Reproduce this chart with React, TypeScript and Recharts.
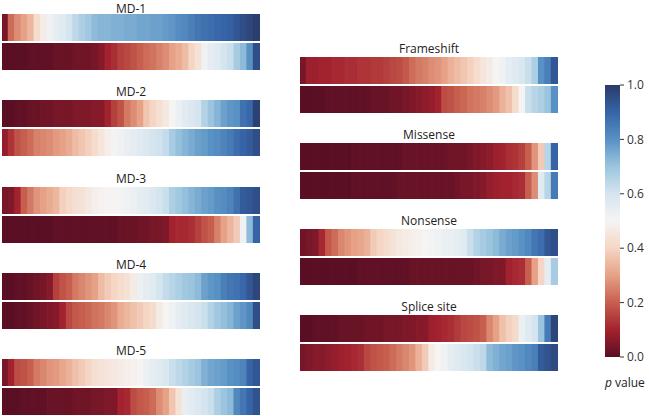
import { Bar, BarChart, Cell, XAxis, YAxis } from "recharts"

// sorted p values per strip (top row, bottom row)
const md1Top = [0.04, 0.22, 0.27, 0.3, 0.34, 0.42, 0.47, 0.52, 0.55, 0.57, 0.6, 0.64, 0.67, 0.69, 0.72, 0.73, 0.73, 0.74, 0.74, 0.75, 0.75, 0.76, 0.76, 0.77, 0.77, 0.78, 0.79, 0.81, 0.82, 0.84, 0.86, 0.87, 0.88, 0.89, 0.9, 0.91, 0.93, 0.95, 0.97, 0.99]
const md1Bottom = [0.0, 0.0, 0.0, 0.0, 0.01, 0.01, 0.01, 0.01, 0.02, 0.02, 0.02, 0.03, 0.03, 0.03, 0.04, 0.06, 0.1, 0.12, 0.15, 0.16, 0.18, 0.2, 0.22, 0.23, 0.25, 0.27, 0.3, 0.32, 0.35, 0.4, 0.44, 0.52, 0.55, 0.57, 0.6, 0.62, 0.68, 0.72, 0.8, 0.95]
const md2Top = [0.0, 0.0, 0.01, 0.01, 0.02, 0.02, 0.03, 0.03, 0.04, 0.04, 0.04, 0.05, 0.05, 0.05, 0.06, 0.06, 0.1, 0.15, 0.18, 0.24, 0.27, 0.3, 0.37, 0.4, 0.43, 0.46, 0.5, 0.53, 0.56, 0.58, 0.6, 0.66, 0.7, 0.73, 0.77, 0.79, 0.8, 0.87, 0.89, 0.98]
const md2Bottom = [0.08, 0.13, 0.18, 0.2, 0.22, 0.25, 0.26, 0.27, 0.29, 0.3, 0.32, 0.35, 0.37, 0.39, 0.42, 0.45, 0.48, 0.51, 0.52, 0.54, 0.55, 0.57, 0.58, 0.6, 0.61, 0.63, 0.68, 0.71, 0.73, 0.75, 0.77, 0.78, 0.8, 0.81, 0.83, 0.85, 0.88, 0.9, 0.92, 0.95]
const md3Top = [0.04, 0.05, 0.1, 0.2, 0.24, 0.28, 0.3, 0.32, 0.34, 0.39, 0.41, 0.43, 0.44, 0.46, 0.48, 0.49, 0.5, 0.5, 0.51, 0.52, 0.53, 0.55, 0.56, 0.58, 0.6, 0.62, 0.67, 0.69, 0.71, 0.73, 0.75, 0.77, 0.78, 0.8, 0.81, 0.83, 0.87, 0.92, 0.93, 0.95]
const md3Bottom = [0.0, 0.0, 0.0, 0.0, 0.0, 0.0, 0.0, 0.0, 0.01, 0.01, 0.01, 0.01, 0.01, 0.01, 0.01, 0.01, 0.01, 0.01, 0.02, 0.02, 0.02, 0.03, 0.03, 0.04, 0.04, 0.05, 0.1, 0.11, 0.11, 0.12, 0.15, 0.18, 0.2, 0.25, 0.3, 0.34, 0.38, 0.52, 0.72, 0.9]
const md4Top = [0.0, 0.0, 0.01, 0.01, 0.02, 0.03, 0.04, 0.06, 0.15, 0.18, 0.2, 0.24, 0.26, 0.28, 0.3, 0.35, 0.38, 0.4, 0.42, 0.44, 0.47, 0.53, 0.55, 0.57, 0.6, 0.63, 0.65, 0.67, 0.69, 0.7, 0.72, 0.77, 0.79, 0.8, 0.84, 0.86, 0.87, 0.89, 0.93, 0.97]
const md4Bottom = [0.0, 0.0, 0.01, 0.01, 0.02, 0.03, 0.04, 0.05, 0.06, 0.1, 0.16, 0.19, 0.2, 0.21, 0.23, 0.24, 0.26, 0.28, 0.32, 0.34, 0.36, 0.38, 0.4, 0.42, 0.47, 0.5, 0.52, 0.55, 0.57, 0.59, 0.6, 0.62, 0.66, 0.69, 0.71, 0.73, 0.77, 0.79, 0.82, 0.95]
const md5Top = [0.04, 0.1, 0.17, 0.18, 0.2, 0.24, 0.26, 0.28, 0.29, 0.31, 0.33, 0.36, 0.38, 0.4, 0.43, 0.44, 0.45, 0.46, 0.47, 0.48, 0.49, 0.5, 0.53, 0.55, 0.57, 0.59, 0.62, 0.64, 0.66, 0.68, 0.7, 0.74, 0.76, 0.77, 0.78, 0.8, 0.81, 0.83, 0.9, 0.93]
const md5Bottom = [0.0, 0.0, 0.0, 0.01, 0.01, 0.01, 0.01, 0.02, 0.02, 0.02, 0.02, 0.03, 0.03, 0.03, 0.04, 0.04, 0.05, 0.05, 0.1, 0.11, 0.17, 0.19, 0.2, 0.22, 0.27, 0.3, 0.37, 0.44, 0.54, 0.56, 0.58, 0.6, 0.62, 0.67, 0.7, 0.72, 0.82, 0.86, 0.9, 0.94]
const frameshiftTop = [0.04, 0.09, 0.09, 0.1, 0.1, 0.11, 0.11, 0.12, 0.12, 0.13, 0.13, 0.14, 0.14, 0.15, 0.16, 0.17, 0.19, 0.22, 0.24, 0.25, 0.27, 0.28, 0.3, 0.33, 0.35, 0.37, 0.39, 0.42, 0.45, 0.47, 0.5, 0.52, 0.55, 0.57, 0.59, 0.62, 0.67, 0.8, 0.84, 0.93]
const frameshiftBottom = [0.0, 0.0, 0.0, 0.0, 0.01, 0.01, 0.01, 0.01, 0.01, 0.01, 0.01, 0.02, 0.02, 0.02, 0.03, 0.03, 0.04, 0.05, 0.06, 0.07, 0.08, 0.1, 0.17, 0.18, 0.2, 0.21, 0.23, 0.24, 0.25, 0.27, 0.29, 0.33, 0.36, 0.42, 0.5, 0.62, 0.65, 0.67, 0.7, 0.8]
const missenseTop = [0.0, 0.0, 0.0, 0.0, 0.0, 0.0, 0.0, 0.0, 0.01, 0.01, 0.01, 0.01, 0.01, 0.01, 0.01, 0.01, 0.02, 0.02, 0.02, 0.02, 0.02, 0.02, 0.02, 0.03, 0.03, 0.03, 0.04, 0.05, 0.06, 0.07, 0.09, 0.1, 0.12, 0.13, 0.15, 0.2, 0.28, 0.38, 0.65, 0.9]
const missenseBottom = [0.0, 0.0, 0.0, 0.0, 0.0, 0.0, 0.0, 0.0, 0.01, 0.01, 0.01, 0.01, 0.01, 0.01, 0.01, 0.02, 0.02, 0.02, 0.02, 0.02, 0.02, 0.02, 0.02, 0.02, 0.03, 0.04, 0.04, 0.05, 0.06, 0.08, 0.09, 0.1, 0.1, 0.11, 0.12, 0.2, 0.27, 0.57, 0.65, 0.85]
const nonsenseTop = [0.03, 0.04, 0.05, 0.11, 0.19, 0.22, 0.26, 0.28, 0.3, 0.31, 0.33, 0.38, 0.4, 0.42, 0.44, 0.46, 0.47, 0.48, 0.49, 0.5, 0.51, 0.52, 0.53, 0.54, 0.55, 0.57, 0.62, 0.66, 0.68, 0.7, 0.72, 0.75, 0.77, 0.78, 0.8, 0.82, 0.86, 0.88, 0.93, 0.95]
const nonsenseBottom = [0.0, 0.0, 0.0, 0.0, 0.0, 0.0, 0.0, 0.0, 0.0, 0.01, 0.01, 0.01, 0.01, 0.01, 0.01, 0.01, 0.01, 0.02, 0.02, 0.02, 0.02, 0.02, 0.02, 0.02, 0.02, 0.02, 0.02, 0.03, 0.04, 0.04, 0.05, 0.05, 0.1, 0.11, 0.12, 0.2, 0.3, 0.4, 0.55, 0.68]
const spliceTop = [0.0, 0.0, 0.01, 0.01, 0.01, 0.01, 0.02, 0.02, 0.02, 0.02, 0.03, 0.03, 0.03, 0.04, 0.04, 0.04, 0.05, 0.05, 0.06, 0.06, 0.09, 0.1, 0.11, 0.12, 0.14, 0.16, 0.17, 0.18, 0.2, 0.26, 0.3, 0.36, 0.39, 0.41, 0.53, 0.57, 0.6, 0.7, 0.85, 0.97]
const spliceBottom = [0.04, 0.05, 0.06, 0.06, 0.07, 0.08, 0.09, 0.1, 0.11, 0.12, 0.16, 0.18, 0.19, 0.2, 0.22, 0.24, 0.26, 0.28, 0.33, 0.38, 0.47, 0.5, 0.52, 0.55, 0.57, 0.59, 0.6, 0.62, 0.64, 0.72, 0.74, 0.76, 0.77, 0.79, 0.8, 0.82, 0.84, 0.92, 0.94, 0.96]

const leftTitles = ["MD-1", "MD-2", "MD-3", "MD-4", "MD-5"]
const rightTitles = ["Frameshift", "Missense", "Nonsense", "Splice site"]
const leftRows = [
  [md1Top, md1Bottom],
  [md2Top, md2Bottom],
  [md3Top, md3Bottom],
  [md4Top, md4Bottom],
  [md5Top, md5Bottom],
]
const rightRows = [
  [frameshiftTop, frameshiftBottom],
  [missenseTop, missenseBottom],
  [nonsenseTop, nonsenseBottom],
  [spliceTop, spliceBottom],
]
const colorbarTicks = [0, 0.2, 0.4, 0.6, 0.8, 1]

// RdBu-like stops at 0, 0.1, ... 1
const colorStops = ["#5a0f24", "#a3222f", "#c75f4e", "#e6a186", "#f5d6c4", "#f5f4f3", "#d5e5f0", "#9bc5de", "#5891c4", "#3664a7", "#2a3a68"]

const FONT = "'Open Sans', 'Noto Sans', sans-serif"

function hexToRgb(h: string) {
  return [1, 3, 5].map((i) => parseInt(h.slice(i, i + 2), 16))
}

function pColor(p: number) {
  const t = Math.max(0, Math.min(1, p)) * (colorStops.length - 1)
  const i = Math.min(colorStops.length - 2, Math.floor(t))
  const f = t - i
  const a = hexToRgb(colorStops[i])
  const b = hexToRgb(colorStops[i + 1])
  const c = a.map((v, k) => Math.round(v + (b[k] - v) * f))
  return `rgb(${c[0]},${c[1]},${c[2]})`
}

const STRIP_W = 258
const ROW_H = 27
const ROW_GAP = 2

const Strip = ({ values }: { values: number[] }) => {
  const data = values.map((p, i) => ({ i, p, v: 1 }))
  return (
    <BarChart
      width={STRIP_W}
      height={ROW_H}
      data={data}
      margin={{ top: 0, right: 0, bottom: 0, left: 0 }}
      barCategoryGap={0}
      barGap={0}
      style={{ display: "block" }}
    >
      <XAxis dataKey="i" hide />
      <YAxis domain={[0, 1]} hide />
      <Bar dataKey="v" isAnimationActive={false}>
        {data.map((d) => (
          <Cell key={d.i} fill={pColor(d.p)} stroke={pColor(d.p)} strokeWidth={1.4} />
        ))}
      </Bar>
    </BarChart>
  )
}

const Panel = ({ title, rows, x, y, titleTop = -15 }: { title: string; rows: number[][]; x: number; y: number; titleTop?: number }) => (
  <div style={{ position: "absolute", left: x, top: y, width: STRIP_W }}>
    <div
      style={{
        position: "absolute",
        top: titleTop,
        width: STRIP_W,
        textAlign: "center",
        fontSize: 12,
        lineHeight: "13px",
        color: "#222",
      }}
    >
      {title}
    </div>
    <div style={{ overflow: "hidden", width: STRIP_W, height: ROW_H }}>
      <Strip values={rows[0]} />
    </div>
    <div style={{ height: ROW_GAP }} />
    <div style={{ overflow: "hidden", width: STRIP_W, height: ROW_H }}>
      <Strip values={rows[1]} />
    </div>
  </div>
)

const ColorBar = () => (
  <div style={{ position: "absolute", left: 605, top: 75 }}>
    <BarChart
      width={55}
      height={292}
      data={[{ k: "bar", v: 1 }]}
      margin={{ top: 10, right: 0, bottom: 10, left: 0 }}
      barCategoryGap={0}
    >
      <defs>
        <linearGradient id="pgrad" x1="0" y1="1" x2="0" y2="0">
          {colorStops.map((c, i) => (
            <stop key={i} offset={i / (colorStops.length - 1)} stopColor={c} />
          ))}
        </linearGradient>
      </defs>
      <XAxis dataKey="k" hide />
      <YAxis
        orientation="right"
        domain={[0, 1]}
        ticks={colorbarTicks}
        tickFormatter={(t: number) => t.toFixed(1)}
        axisLine={false}
        tickLine={{ stroke: "#333" }}
        tickSize={4}
        tickMargin={3}
        width={40}
        tick={{ fontSize: 12, fill: "#333", fontFamily: FONT }}
      />
      <Bar dataKey="v" fill="url(#pgrad)" isAnimationActive={false} />
    </BarChart>
  </div>
)

export default function App() {
  return (
    <div
      style={{
        position: "absolute",
        left: 0,
        top: 0,
        width: 649,
        height: 416,
        background: "#fff",
        fontFamily: FONT,
        overflow: "hidden",
      }}
    >
      {leftTitles.map((t, i) => (
        <Panel key={t} title={t} rows={leftRows[i]} x={2} y={14 + i * 86.25} titleTop={i === 0 ? -12.5 : -15} />
      ))}
      {rightTitles.map((t, i) => (
        <Panel key={t} title={t} rows={rightRows[i]} x={300} y={57 + i * 86} />
      ))}
      <ColorBar />
      <div style={{ position: "absolute", left: 605, top: 374, fontSize: 12, color: "#222" }}>
        <i>p</i> value
      </div>
    </div>
  )
}
